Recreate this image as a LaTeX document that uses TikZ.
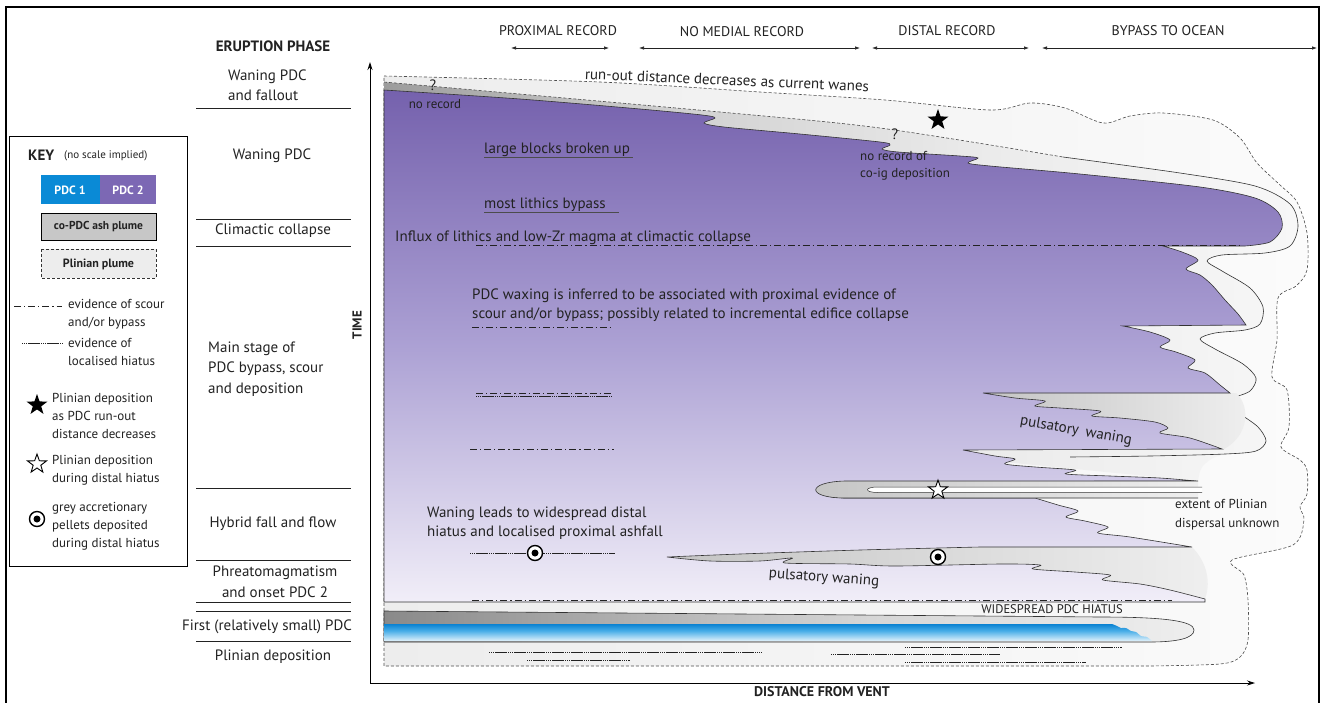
\documentclass[tikz,border=0pt]{standalone}
\usepackage{fontspec}
\setmainfont{PT Sans}
\usetikzlibrary{arrows.meta,shapes.geometric}

\definecolor{txt}{HTML}{222222}
\definecolor{ptop}{HTML}{7561AD}
\definecolor{pmid}{HTML}{ACA1D4}
\definecolor{pbot}{HTML}{F1EEF8}
\definecolor{g0}{HTML}{9C9C9C}
\definecolor{g1}{HTML}{CFCFCF}
\definecolor{g2}{HTML}{EBEBEB}
\definecolor{g3}{HTML}{F7F7F7}
\definecolor{w0}{HTML}{C4C4C4}
\definecolor{w1}{HTML}{EFEFEF}
\definecolor{b0}{HTML}{8A8A8A}
\definecolor{b1}{HTML}{D6D6D6}
\definecolor{b2}{HTML}{EEEEEE}
\definecolor{bl0}{HTML}{0A82D2}
\definecolor{bl1}{HTML}{49AEE8}
\definecolor{bl2}{HTML}{E2F2FB}
\definecolor{pl0}{HTML}{EDEDED}
\definecolor{pl1}{HTML}{FBFBFB}
\definecolor{pdcone}{HTML}{0A8AD6}
\definecolor{pdctwo}{HTML}{7C68B4}

\pgfdeclareverticalshading{purpsh}{100bp}{color(0bp)=(pbot); color(25bp)=(pbot); color(50bp)=(pmid); color(75bp)=(ptop); color(100bp)=(ptop)}
\pgfdeclarehorizontalshading{greysh}{100bp}{color(0bp)=(g0); color(25bp)=(g0); color(40bp)=(g1); color(58bp)=(g2); color(75bp)=(g3); color(100bp)=(g3)}
\pgfdeclarehorizontalshading{wedgesh}{100bp}{color(0bp)=(w0); color(25bp)=(w0); color(75bp)=(w1); color(100bp)=(w1)}
\pgfdeclarehorizontalshading{bandsh}{100bp}{color(0bp)=(b0); color(25bp)=(b0); color(55bp)=(b1); color(75bp)=(b2); color(100bp)=(b2)}
\pgfdeclareverticalshading{bluesh}{100bp}{color(0bp)=(bl2); color(25bp)=(bl2); color(55bp)=(bl1); color(75bp)=(bl0); color(100bp)=(bl0)}
\pgfdeclarehorizontalshading{plinsh}{100bp}{color(0bp)=(pl0); color(25bp)=(pl0); color(75bp)=(pl1); color(100bp)=(pl1)}

\tikzset{
  lab/.style={font=\fontsize{15}{20.5}\selectfont, text=txt, inner sep=0pt},
  smalllab/.style={font=\fontsize{13}{17}\selectfont, text=txt, inner sep=0pt},
  keyt/.style={font=\fontsize{13}{18}\selectfont, text=txt, inner sep=0pt, align=left, anchor=west},
  hdr/.style={font=\fontsize{14}{16}\selectfont, text=txt, inner sep=0pt},
  boldlab/.style={font=\fontsize{15}{18}\selectfont\bfseries, text=txt, inner sep=0pt},
  scour/.style={line width=0.7pt, draw=txt, dash pattern=on 7pt off 3pt on 1.2pt off 3pt},
  hiatus/.style={line width=0.6pt, draw=txt, dash pattern=on 1pt off 1pt on 1pt off 1pt on 1pt off 1pt on 12pt off 1pt},
  outl/.style={draw=black!80, line width=0.6pt},
  plin/.style={draw=black!70, line width=0.6pt, dash pattern=on 3pt off 2pt},
  phsep/.style={line width=0.8pt, draw=txt},
  twoarrow/.style={{Latex[length=5pt,width=3.5pt]}-{Latex[length=5pt,width=3.5pt]}, line width=0.7pt, draw=txt},
  pelletout/.style={circle, draw=black, line width=1.4pt, fill=white, minimum size=15pt, inner sep=0pt},
  pelletin/.style={circle, fill=black, minimum size=7pt, inner sep=0pt},
  fstar/.style={star, star points=5, star point ratio=2.5, fill=black, minimum size=22pt, inner sep=0pt},
  hstar/.style={star, star points=5, star point ratio=2.5, draw=black, fill=white, line width=0.9pt, minimum size=20pt, inner sep=0pt},
}

\begin{document}
\begin{tikzpicture}[x=1pt,y=-1pt]
\useasboundingbox (0,0) rectangle (1322,702);
\fill[white] (0,0) rectangle (1322,702);

% outer frame
\draw[line width=1.2pt] (6,704) -- (6,7) -- (1319,7) -- (1319,704);

% ---------- Plinian plume envelope ----------
\shade[shading=plinsh] plot[smooth, tension=0.5] coordinates {(384,76) (600,82) (760,92) (885,100) (990,110) (1030,103) (1065,108) (1103,123) (1130,116) (1163,113) (1213,120) (1240,138) (1257,163) (1280,185) (1297,202) (1307,233) (1307,270) (1296,286) (1278,298) (1277,340) (1272,377) (1287,390) (1289,427) (1281,447) (1300,460) (1307,470) (1307,494) (1300,507) (1304,520) (1293,545) (1232,560) (1244,575) (1248,600) (1248,640) (1240,657) (1220,664) (1150,666)} -- (384,666) -- cycle;
\draw[plin] plot[smooth, tension=0.5] coordinates {(384,76) (600,82) (760,92) (885,100) (990,110) (1030,103) (1065,108) (1103,123) (1130,116) (1163,113) (1213,120) (1240,138) (1257,163) (1280,185) (1297,202) (1307,233) (1307,270) (1296,286) (1278,298) (1277,340) (1272,377) (1287,390) (1289,427) (1281,447) (1300,460) (1307,470) (1307,494) (1300,507) (1304,520) (1293,545) (1232,560) (1244,575) (1248,600) (1248,640) (1240,657) (1220,664) (1150,666)} -- (384,666) -- cycle;

% ---------- co-PDC ash plume envelope ----------
\shade[shading=greysh] plot[smooth, tension=0.5] coordinates {(384,82) (720,112) (880,128) (1063,157) (1180,173) (1255,186) (1290,204) (1298,226) (1290,246) (1265,253) (1222,255) (1207,261) (1222,271) (1250,288) (1263,307) (1260,324) (1245,330) (1215,333) (1200,339) (1215,349) (1243,364) (1256,378) (1250,391) (1233,398) (1225,404) (1240,414) (1258,427) (1266,441) (1256,451) (1218,456) (1202,467) (1198,481)} -- (963,458) -- (384,458) -- cycle;
\draw[plin] plot[smooth, tension=0.5] coordinates {(384,82) (720,112) (880,128) (1063,157)};
\draw[outl] plot[smooth, tension=0.5] coordinates {(1063,157) (1180,173) (1255,186) (1290,204) (1298,226) (1290,246) (1265,253) (1222,255) (1207,261) (1222,271) (1250,288) (1263,307) (1260,324) (1245,330) (1215,333) (1200,339) (1215,349) (1243,364) (1256,378) (1250,391) (1233,398) (1225,404) (1240,414) (1258,427) (1266,441) (1256,451) (1225,454) (1150,456) (1070,457)};

% pulsatory waning wedge
\shade[shading=wedgesh] (983,393) -- (1236,393) .. controls (1250,405) and (1250,435) .. (1224,449) -- plot[smooth, tension=0.5] coordinates {(1222,449) (1190,438) (1160,433) (1168,428) (1155,422) (1120,418) (1092,416) (1100,411) (1060,408) (1035,406) (1045,401) (1015,398) (983,393)} -- cycle;

% pellet tongue
\shade[shading=wedgesh] (1192,547) -- plot[smooth, tension=0.5] coordinates {(980,547) (860,550) (740,554) (667,557)} -- plot[smooth, tension=0.5] coordinates {(667,557) (710,561) (760,561) (792,558) (785,563) (850,564) (895,566) (1000,564) (1040,565) (1033,569) (1075,572) (1110,575) (1103,580) (1140,584) (1170,590) (1205,599)} .. controls (1212,580) and (1205,560) .. (1192,547) -- cycle;

% ---------- PDC 1 and its ash plume ----------
\shadedraw[shading=bandsh, outl] (384,611) -- (1100,617) .. controls (1165,617) and (1194,621) .. (1194,630) .. controls (1194,638) and (1178,642) .. (1150,642) -- (384,642) -- cycle;
\shade[shading=bluesh] (384,624) -- (1112,624) -- plot[smooth, tension=0.3] coordinates {(1112,624) (1117,626) (1121,628) (1126,628) (1131,631) (1136,632) (1141,636) (1147,637) (1152,641)} -- (384,641) -- cycle;

% ---------- PDC 2 ----------
\shadedraw[shading=purpsh, outl] plot[smooth, tension=0.5] coordinates {(384,90) (520,99) (640,109) (702,115) (715,118) (704,123) (724,127) (800,134) (880,142) (890,145) (882,149) (898,152) (960,156) (978,158) (968,163) (990,166) (1080,174) (1200,187) (1255,198) (1278,212) (1282,228) (1270,242) (1245,246)}
 -- (1163,246)
 -- plot[smooth, tension=0.5] coordinates {(1163,246) (1182,252) (1198,260) (1186,269) (1200,275) (1212,285) (1225,300) (1238,314) (1246,325)}
 -- (1123,326)
 -- plot[smooth, tension=0.5] coordinates {(1123,326) (1150,332) (1170,340) (1160,347) (1176,352) (1195,360) (1188,368) (1205,373) (1220,385) (1230,393)}
 -- (983,393)
 -- plot[smooth, tension=0.5] coordinates {(983,393) (1015,398) (1045,401) (1035,406) (1060,408) (1100,411) (1092,416) (1120,418) (1155,422) (1168,428) (1160,433) (1190,438) (1222,449)}
 -- (963,450)
 -- plot[smooth, tension=0.5] coordinates {(963,450) (995,456) (1015,459) (1005,464) (1035,467) (1075,470) (1066,474) (1110,476) (1160,478) (1196,481)}
 -- (845,482) .. controls (808,483) and (808,497) .. (845,498)
 -- (1035,498)
 -- plot[smooth, tension=0.5] coordinates {(1035,498) (1058,505) (1078,511) (1066,517) (1085,521) (1108,527) (1098,533) (1130,537) (1192,547)}
 -- plot[smooth, tension=0.5] coordinates {(980,547) (860,550) (740,554) (667,557)}
 -- plot[smooth, tension=0.5] coordinates {(667,557) (710,561) (760,561) (792,558) (785,563) (850,564) (895,566) (1000,564) (1040,565) (1033,569) (1075,572) (1110,575) (1103,580) (1140,584) (1170,590) (1205,599)}
 -- (1205,602) -- (384,602) -- cycle;

% star tongue
\shade[shading=wedgesh] (1198,481) -- (845,481) .. controls (806,482) and (806,498) .. (845,498) -- (1198,498) -- cycle;
\draw[outl] (1198,481) -- (845,481) .. controls (806,482) and (806,498) .. (845,498) -- (1198,498);
\filldraw[fill=white, draw=black!80, line width=0.5pt] (1202,487) -- (878,487) .. controls (864,487) and (864,492.5) .. (878,492.5) -- (1202,492.5);

% ---------- scour / hiatus lines ----------
\coordinate (sc1a) at (476,245); \coordinate (sc1b) at (1240,245);
\draw[scour] (sc1a) -- (sc1b);
\coordinate (sc2a) at (472,327); \coordinate (sc2b) at (610,327);
\draw[scour] (sc2a) -- (sc2b);
\coordinate (sc3a) at (476,393); \coordinate (sc3b) at (612,393);
\draw[scour] (sc3a) -- (sc3b);
\coordinate (hi3a) at (476,396); \coordinate (hi3b) at (612,396);
\draw[hiatus] (hi3a) -- (hi3b);
\coordinate (sc4a) at (470,449); \coordinate (sc4b) at (614,449);
\draw[scour] (sc4a) -- (sc4b);
\coordinate (hi5a) at (470,553); \coordinate (hi5b) at (615,553);
\draw[hiatus] (hi5a) -- (hi5b);
\coordinate (sc6a) at (472,600); \coordinate (sc6b) at (1172,600);
\draw[scour] (sc6a) -- (sc6b);
% bottom localised hiatus lines
\draw[hiatus] (489,652) -- (762,652);
\draw[hiatus] (527,660) -- (630,660);
\draw[hiatus] (905,647) -- (1122,647);
\draw[hiatus] (831,654) -- (1000,654);
\draw[hiatus] (905,662) -- (1086,662);
% text underlines
\draw[line width=0.7pt, draw=black!70] (484,157) -- (633,157);
\draw[line width=0.7pt, draw=black!70] (484,212) -- (619,212);

% ---------- symbols ----------
\node[fstar] (starA) at (938,120) {};
\node[hstar] (starB) at (938,490) {};
\node[pelletout] (pelA) at (535,553) {};
\node[pelletin] (pelAc) at (pelA.center) {};
\node[pelletout] (pelB) at (938,557) {};
\node[pelletin] (pelBc) at (pelB.center) {};

% ---------- texts in the diagram ----------
\node[lab, rotate=-2.5] (runout) at (727,80) {run-out distance decreases as current wanes};
\node[lab] (q1) at (433,85) {?};
\node[lab] (q2) at (895,134) {?};
\node[smalllab] (norec) at (435,104) {no record};
\node[smalllab, align=left, anchor=west] (norecB) at (860,166) {no record of\\co-ig deposition};
\node[lab, anchor=west] (blocks) at (484,150) {large blocks broken up};
\node[lab, anchor=west] (lithics) at (484,205) {most lithics bypass};
\node[lab, anchor=west] (influx) at (395,238) {Influx of lithics and low-Zr magma at climactic collapse};
\node[lab, anchor=west, align=left, font=\fontsize{15}{19}\selectfont] (waxing) at (472,305) {PDC waxing is inferred to be associated with proximal evidence of\\scour and/or bypass; possibly related to incremental edifice collapse};
\node[lab, rotate=-10] (puls1) at (1076,431) {pulsatory\hspace{3pt} waning};
\node[lab, rotate=-4] (puls2) at (824,578) {pulsatory waning};
\node[lab, anchor=west, align=left, font=\fontsize{15}{19}\selectfont] (waning) at (427,523) {Waning leads to widespread distal\\hiatus and localised proximal ashfall};
\node[smalllab, anchor=west, align=left, font=\fontsize{13}{19}\selectfont] (extent) at (1175,515) {extent of Plinian\\dispersal unknown};
\node[smalllab, font=\fontsize{12.5}{14}\selectfont] (widesp) at (1052,609) {WIDESPREAD PDC HIATUS};

% ---------- axes ----------
\coordinate (origin) at (370,683);
\coordinate (ttop) at (370,62);
\coordinate (xend) at (1255,683);
\draw[line width=0.9pt, -{Stealth[length=8pt,width=5pt]}] (origin) -- (ttop);
\draw[line width=0.9pt, -{Stealth[length=8pt,width=5pt]}] (origin) -- (xend);
\node[boldlab, font=\fontsize{13}{15}\selectfont\bfseries, rotate=90] (time) at (357,325) {TIME};
\node[boldlab, font=\fontsize{14}{16}\selectfont\bfseries] (dist) at (822,692) {DISTANCE FROM VENT};

% ---------- header ----------
\node[hdr] (h1) at (558,31) {PROXIMAL RECORD};
\node[hdr] (h2) at (742,32) {NO MEDIAL RECORD};
\node[hdr] (h3) at (947,31) {DISTAL RECORD};
\node[hdr] (h4) at (1168,31) {BYPASS TO OCEAN};
\coordinate (a1l) at (511,48); \coordinate (a1r) at (609,48);
\coordinate (a2l) at (639,48); \coordinate (a2r) at (860,48);
\coordinate (a3l) at (872,48); \coordinate (a3r) at (1029,48);
\coordinate (a4l) at (1042,48); \coordinate (a4r) at (1317,48);
\draw[twoarrow] (a1l) -- (a1r);
\draw[twoarrow] (a2l) -- (a2r);
\draw[twoarrow] (a3l) -- (a3r);
\draw[twoarrow] (a4l) -- (a4r);

% ---------- eruption phase column ----------
\node[boldlab] (phase) at (273,46) {ERUPTION PHASE};
\node[lab, anchor=west, align=left] (ph1) at (228,85) {Waning PDC\\and fallout};
\node[lab] (ph2) at (272,156) {Waning PDC};
\node[lab] (ph3) at (273,231) {Climactic collapse};
\node[lab, anchor=west, align=left] (ph4) at (208,369) {Main stage of\\PDC bypass, scour\\and deposition};
\node[lab] (ph5) at (273,524) {Hybrid fall and flow};
\node[lab, align=center] (ph6) at (275,582) {Phreatomagmatism\\and onset PDC 2};
\node[lab] (ph7) at (267,627) {First (relatively small) PDC};
\node[lab] (ph8) at (273,657) {Plinian deposition};
\foreach \yy in {108,219,246,488,560,602,611,641}{
  \draw[phsep] (196,\yy) -- (351,\yy);
}

% ---------- key ----------
\draw[line width=0.8pt] (9,136) rectangle (187,566);
\node[boldlab, anchor=west] (keyt) at (28,155) {KEY};
\node[smalllab, font=\fontsize{11}{13}\selectfont, anchor=west] (keyns) at (64,156) {(no scale implied)};
\fill[pdcone] (41,175) rectangle (100,204);
\fill[pdctwo] (100,175) rectangle (156,204);
\node[font=\fontsize{12}{14}\selectfont\bfseries, text=white, inner sep=0pt] (kp1) at (70,190) {PDC 1};
\node[font=\fontsize{12}{14}\selectfont\bfseries, text=white, inner sep=0pt] (kp2) at (128,190) {PDC 2};
\filldraw[fill=black!22, draw=black, line width=0.8pt] (41,213) rectangle (156,240);
\node[font=\fontsize{11.5}{14}\selectfont\bfseries, text=txt, inner sep=0pt] (kash) at (98.5,227) {co-PDC ash plume};
\filldraw[fill=black!7, draw=black!80, line width=0.7pt, dash pattern=on 3pt off 2pt] (41,249) rectangle (156,278);
\node[font=\fontsize{12}{14}\selectfont\bfseries, text=txt, inner sep=0pt] (kplin) at (98.5,264) {Plinian plume};
\coordinate (ksa) at (14,306); \coordinate (ksb) at (62,306);
\draw[scour] (ksa) -- (ksb);
\node[keyt] (ks) at (68,314) {evidence of scour\\and/or bypass};
\coordinate (kha) at (22,343); \coordinate (khb) at (64,343);
\draw[hiatus] (kha) -- (khb);
\node[keyt] (kh) at (68,352) {evidence of\\localised hiatus};
\node[fstar] (kstarA) at (37,405) {};
\node[keyt] (kstA) at (52,416) {Plinian deposition\\as PDC run-out\\distance decreases};
\node[hstar] (kstarB) at (37,464) {};
\node[keyt] (kstB) at (52,470) {Plinian deposition\\during distal hiatus};
\node[pelletout] (kpel) at (37,519) {};
\node[pelletin] (kpelc) at (kpel.center) {};
\node[keyt] (kpl) at (52,526) {grey accretionary\\pellets deposited\\during distal hiatus};
\end{tikzpicture}
\end{document}
